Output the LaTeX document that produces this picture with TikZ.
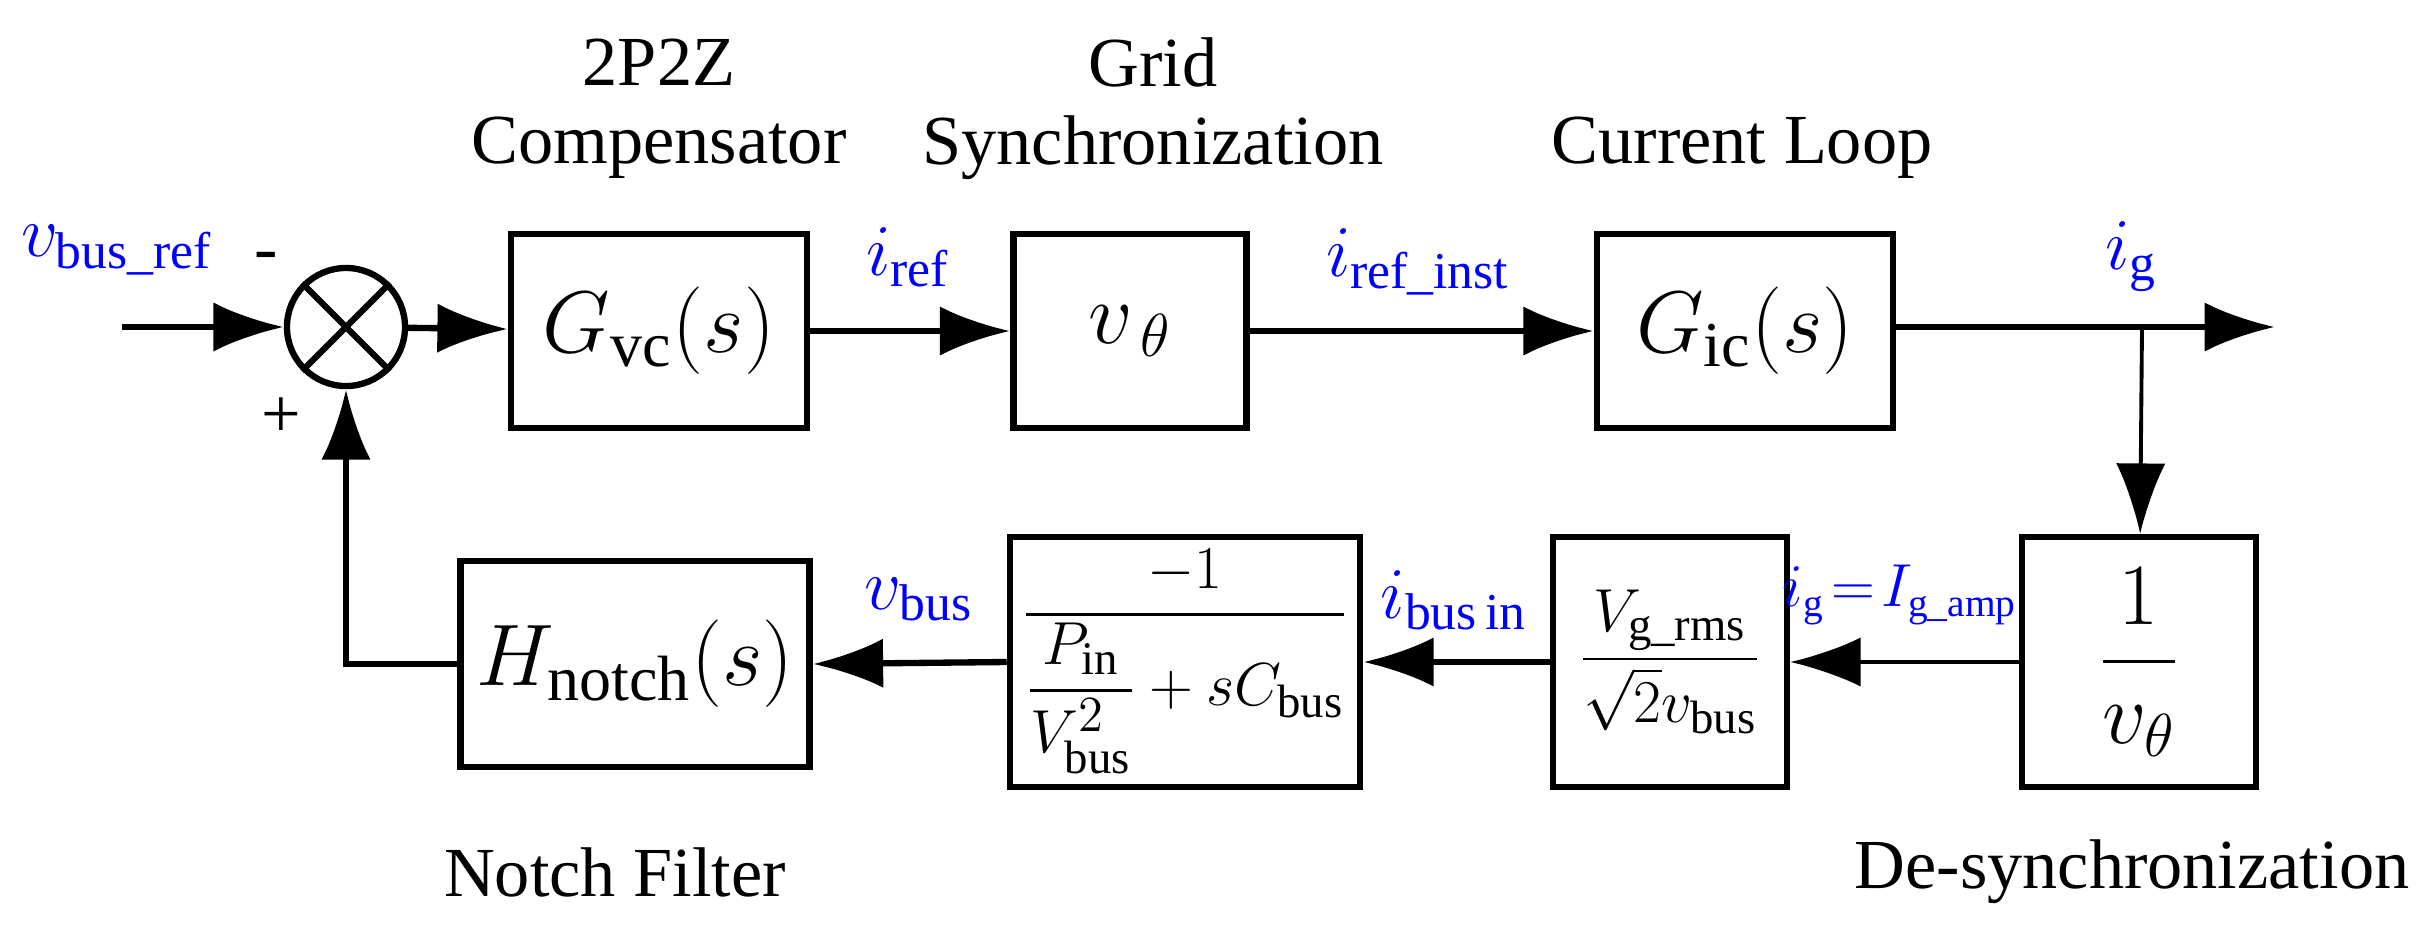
\documentclass[tikz,border=0pt]{standalone}
\usepackage{amsmath}
\usepackage{fontspec}
\setmainfont{Liberation Serif}
\usetikzlibrary{arrows.meta}
\tikzset{
  blk/.style={draw, line width=1.8pt, inner sep=0pt, font=\fontsize{26}{30}\selectfont},
  small/.style={font=\fontsize{19}{22}\selectfont},
  sig/.style={line width=1.8pt, -{Latex[length=20pt,width=14pt]}},
  thinsig/.style={line width=1.1pt, -{Latex[length=20pt,width=14pt]}},
  lbl/.style={font=\fontsize{20}{24}\selectfont, align=center},
  blu/.style={text=blue, font=\fontsize{21}{25}\selectfont, inner sep=0pt}
}
\begin{document}
\begin{tikzpicture}[x=0.01cm,y=-0.01cm]
\useasboundingbox (0,0) rectangle (2430,936);
% forward path
\node[draw, line width=1.8pt, circle, minimum size=1.18cm, inner sep=0pt] (sum) at (346,327) {};
\draw[line width=1.8pt] (sum.north west) -- (sum.south east) (sum.north east) -- (sum.south west);
\node[blk, minimum width=2.96cm, minimum height=1.94cm] (gvc) at (659,331) {$G_{\mathrm{vc}}(s)$};
\node[blk, minimum width=2.33cm, minimum height=1.94cm] (vth) at (1130,331) {$v_{\,\theta}$};
\node[blk, minimum width=2.96cm, minimum height=1.94cm] (gic) at (1745,331) {$G_{\mathrm{ic}}(s)$};
\coordinate (in) at (122,327);
\coordinate (out) at (2275,327);
\coordinate (br) at (2142,327);
% feedback path
\node[blk, minimum width=2.34cm, minimum height=2.5cm] (inv) at (2139,662) {$\dfrac{1}{v_\theta}$};
\node[blk, small, minimum width=2.34cm, minimum height=2.5cm] (vg) at (1670,662)
  {$\dfrac{V_{\mathrm{g\_rms}}}{\sqrt{2}v_{\mathrm{bus}}}$};
\node[blk, small, minimum width=3.5cm, minimum height=2.5cm] (pl) at (1185,662)
  {$\dfrac{-1}{\dfrac{P_{\mathrm{in}}}{V_{\mathrm{bus}}^2}+sC_{\mathrm{bus}}}$};
\node[blk, minimum width=3.49cm, minimum height=2.06cm] (hn) at (635,664) {$H_{\mathrm{notch}}(s)$};
\coordinate (fb) at (346,664);
% connectors
\draw[sig] (in) -- (sum);
\draw[sig] (sum) -- (gvc);
\draw[sig] (gvc) -- (vth);
\draw[sig] (vth) -- (gic);
\draw[sig] (gic.east |- br) -- (out);
\draw[thinsig] (br) -- (inv);
\draw[thinsig] (inv) -- (vg);
\draw[sig] (vg) -- (pl);
\draw[sig] (pl.west) -- (hn.east);
\draw[sig] (hn.west) -- (fb) -- (sum);
% titles
\node[lbl] (t1) at (659,62) {2P2Z};
\node[lbl] (t2) at (659,148) {Compensator};
\node[lbl] (t3) at (1153,62) {Grid};
\node[lbl] (t4) at (1153,148) {Synchronization};
\node[lbl] (t5) at (1742,148) {Current Loop};
\node[lbl] (t6) at (615,872) {Notch Filter};
\node[lbl] (t7) at (2132,872) {De-synchronization};
% signal labels
\node[blu] (l1) at (117,250) {$v_{\mathrm{bus\_ref}}$};
\node[lbl] (m1) at (266,262) {-};
\node[lbl] (p1) at (281,418) {+};
\node[blu] (l2) at (908,257) {$i_{\mathrm{ref}}$};
\node[blu] (l3) at (1418,262) {$i_{\mathrm{ref\_inst}}$};
\node[blu] (l4) at (2131,257) {$i_{\mathrm{g}}$};
\node[blu] (l5) at (919,600) {$v_{\mathrm{bus}}$};
\node[blu] (l6) at (1454,600) {$i_{\mathrm{bus\,in}}$};
\node[blu, font=\fontsize{16}{20}\selectfont] (l7) at (1900,595) {$i_{\mathrm{g}}\!=\!I_{\mathrm{g\_amp}}$};
\end{tikzpicture}
\end{document}
